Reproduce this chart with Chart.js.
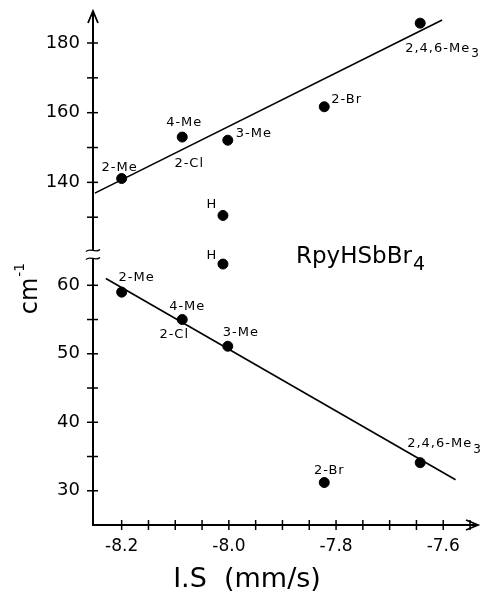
<!DOCTYPE html>
<html><head><meta charset="utf-8">
<script src="https://cdn.jsdelivr.net/npm/chart.js@4"></script>
<style>html,body{margin:0;padding:0;background:#fff}</style>
</head><body>
<canvas id="c" width="483" height="594"></canvas>
<script>
// ---- data ----
const compounds   = ['2-Me', '4-Me', '3-Me', '2-Br', '2,4,6-Me3', 'H'];
const isShift     = [-8.20, -8.087, -8.002, -7.822, -7.643, -8.011];
const upperBand   = [141.1, 153.0, 152.1, 161.7, 185.7, 130.5];
const lowerBand   = [59.0, 55.0, 51.1, 31.2, 34.1, 63.1];
const upperFitX   = [-8.25, -7.602];
const upperFitY   = [136.9, 186.6];
const lowerFitX   = [-8.2295, -7.577];
const lowerFitY   = [61.0, 31.6];
const xTickLabels = ['-8.2', '-8.0', '-7.8', '-7.6'];
const upperTickLabels = [140, 160, 180];
const lowerTickLabels = [30, 40, 50, 60];
const compoundName = 'RpyHSbBr';
const compoundSub = '4';

// ---- label placement (style) ----
const FONT = '"DejaVu Sans", sans-serif';
// [compound index, text, dx, dy, align]
const upperLabelPos = [
  [0, '2-Me', -2, -11, 'center'],
  [1, '4-Me', 2, -14, 'center'],
  [1, '2-Cl', 7, 27, 'center'],
  [2, '3-Me', 8, -7, 'left'],
  [3, '2-Br', 7, -7, 'left'],
  [4, '2,4,6-Me|3', -15, 25, 'left'],
  [5, 'H', -11, -11, 'center']
];
const lowerLabelPos = [
  [0, '2-Me', 15, -15, 'center'],
  [1, '4-Me', 5, -13, 'center'],
  [1, '2-Cl', -8, 15, 'center'],
  [2, '3-Me', 13, -14, 'center'],
  [3, '2-Br', 5, -12, 'center'],
  [4, '2,4,6-Me|3', -13, -19, 'left'],
  [5, 'H', -11, -8, 'center']
];

const pts = (ys) => isShift.map((x, i) => ({x: x, y: ys[i]}));
const line = (xs, ys) => xs.map((x, i) => ({x: x, y: ys[i]}));

function drawSubText(ctx, text, x, y, align, size, subSize, subDy, spacing) {
  const parts = text.split('|');
  const main = parts[0], sub = parts[1] || '';
  ctx.letterSpacing = (spacing || 0) + 'px';
  ctx.font = size + 'px ' + FONT;
  const wm = ctx.measureText(main).width;
  ctx.font = subSize + 'px ' + FONT;
  const ws = sub ? ctx.measureText(sub).width + 1 : 0;
  let left = x;
  if (align === 'center') left = x - (wm + ws) / 2;
  ctx.textAlign = 'left';
  ctx.textBaseline = 'middle';
  ctx.font = size + 'px ' + FONT;
  ctx.fillText(main, left, y);
  if (sub) {
    ctx.font = subSize + 'px ' + FONT;
    ctx.fillText(sub, left + wm + 1, y + subDy);
  }
  ctx.letterSpacing = '0px';
}

const deco = {
  id: 'deco',
  afterDraw(chart) {
    const ctx = chart.ctx;
    const xs = chart.scales.x, yU = chart.scales.yU, yL = chart.scales.yL;
    const ca = chart.chartArea;
    const ax = ca.left, ay = ca.bottom;
    ctx.save();
    ctx.strokeStyle = '#000';
    ctx.fillStyle = '#000';
    ctx.lineWidth = 1.5;
    const seg = (x1, y1, x2, y2) => { ctx.beginPath(); ctx.moveTo(x1, y1); ctx.lineTo(x2, y2); ctx.stroke(); };
    // x ticks crossing the axis
    xs.ticks.forEach(t => {
      const px = xs.getPixelForValue(t.value);
      if (px - ax < 4) return;
      seg(px, ay - 5, px, ay + 5);
    });
    // y ticks crossing the axis
    yU.ticks.forEach(t => {
      if (t.value < 125) return;
      const py = yU.getPixelForValue(t.value);
      seg(ax - 6, py, ax + 5, py);
    });
    yL.ticks.forEach(t => {
      if (t.value < 27) return;
      const py = yL.getPixelForValue(t.value);
      seg(ax - 6, py, ax + 5, py);
    });
    // axis break
    const bc = yU.bottom;
    ctx.fillStyle = '#fff';
    ctx.fillRect(ax - 9, bc - 4, 18, 8);
    ctx.fillStyle = '#000';
    ctx.lineWidth = 1.3;
    [bc - 4, bc + 4].forEach(by => {
      ctx.beginPath();
      ctx.moveTo(ax - 7, by + 1);
      ctx.bezierCurveTo(ax - 3, by - 3, ax + 3, by + 3, ax + 7, by - 1);
      ctx.stroke();
    });
    // arrows
    ctx.lineWidth = 1.8;
    ctx.beginPath();
    ctx.moveTo(ax - 5, ca.top + 11); ctx.lineTo(ax, ca.top - 1); ctx.lineTo(ax + 5, ca.top + 11);
    ctx.stroke();
    ctx.beginPath();
    ctx.moveTo(ca.right - 11, ay - 5); ctx.lineTo(ca.right + 1, ay); ctx.lineTo(ca.right - 11, ay + 5);
    ctx.stroke();
    // point labels
    const drawLabels = (list, scaleY, vals) => {
      list.forEach(([i, txt, dx, dy, align]) => {
        const px = xs.getPixelForValue(isShift[i]);
        const py = scaleY.getPixelForValue(vals[i]);
        drawSubText(ctx, txt, px + dx, py + dy, align, 13, 12, 6, 1);
      });
    };
    drawLabels(upperLabelPos, yU, upperBand);
    drawLabels(lowerLabelPos, yL, lowerBand);
    // compound name
    drawSubText(ctx, compoundName + '|' + compoundSub, 296, 257, 'left', 23, 19, 8, 0);
    // axis titles
    ctx.font = '27px ' + FONT;
    ctx.textAlign = 'center';
    ctx.textBaseline = 'middle';
    ctx.fillText('I.S  (mm/s)', 247, 580);
    ctx.save();
    ctx.translate(31, 290);
    ctx.rotate(-Math.PI / 2);
    ctx.font = '24px ' + FONT;
    ctx.textAlign = 'left';
    const wcm = ctx.measureText('cm').width;
    ctx.fillText('cm', -wcm / 2 - 6, 0);
    ctx.font = '14px ' + FONT;
    ctx.fillText('-1', wcm / 2 - 5, -11);
    ctx.restore();
    ctx.restore();
  }
};

const noPad = (s) => { s.paddingTop = 0; s.paddingBottom = 0; s.paddingLeft = 0; s.paddingRight = 0; };
const tickFontY = {family: FONT, size: 18};
const pointStyle = {pointRadius: 5, pointBackgroundColor: '#000', pointBorderColor: '#000', showLine: false};

new Chart(document.getElementById('c'), {
  type: 'scatter',
  data: {
    datasets: [
      Object.assign({data: pts(upperBand), yAxisID: 'yU'}, pointStyle),
      Object.assign({data: pts(lowerBand), yAxisID: 'yL'}, pointStyle),
      {data: line(upperFitX, upperFitY), yAxisID: 'yU', showLine: true, pointRadius: 0, borderColor: '#000', borderWidth: 1.6},
      {data: line(lowerFitX, lowerFitY), yAxisID: 'yL', showLine: true, pointRadius: 0, borderColor: '#000', borderWidth: 1.6}
    ]
  },
  options: {
    responsive: false,
    animation: false,
    devicePixelRatio: 1,
    layout: {padding: {top: 12, right: 2, left: 0, bottom: 0}},
    plugins: {legend: {display: false}, tooltip: {enabled: false}},
    scales: {
      x: {
        type: 'linear', min: -8.2535, max: -7.537,
        grid: {display: false, drawTicks: false},
        border: {display: true, color: '#000', width: 2},
        ticks: {
          stepSize: 0.05, autoSkip: false, includeBounds: false, maxRotation: 0, padding: 11,
          color: '#000', font: {family: FONT, size: 17},
          callback: (v) => {
            const s = (Math.round(v * 10) / 10).toFixed(1);
            return (Math.abs(v * 5 - Math.round(v * 5)) < 1e-6 && xTickLabels.includes(s)) ? s : '';
          }
        },
        afterFit: (s) => { s.height = 69; noPad(s); }
      },
      yL: {
        type: 'linear', position: 'left', stack: 'y', stackWeight: 270,
        min: 25, max: 64.5,
        grid: {display: false, drawTicks: false},
        border: {display: true, color: '#000', width: 2},
        ticks: {
          stepSize: 5, autoSkip: false, includeBounds: false, padding: 13, color: '#000', font: tickFontY,
          callback: (v) => lowerTickLabels.includes(Math.round(v)) && Math.abs(v - Math.round(v)) < 1e-6 ? String(Math.round(v)) : ''
        },
        afterFit: (s) => { s.width = 93; noPad(s); }
      },
      yU: {
        type: 'linear', position: 'left', stack: 'y', stackWeight: 242,
        min: 119.3, max: 188.9,
        grid: {display: false, drawTicks: false},
        border: {display: true, color: '#000', width: 2},
        ticks: {
          stepSize: 10, autoSkip: false, includeBounds: false, padding: 13, color: '#000', font: tickFontY,
          callback: (v) => upperTickLabels.includes(Math.round(v)) && Math.abs(v - Math.round(v)) < 1e-6 ? String(Math.round(v)) : ''
        },
        afterFit: (s) => { s.width = 93; noPad(s); }
      }
    }
  },
  plugins: [deco]
});
</script>
</body></html>
